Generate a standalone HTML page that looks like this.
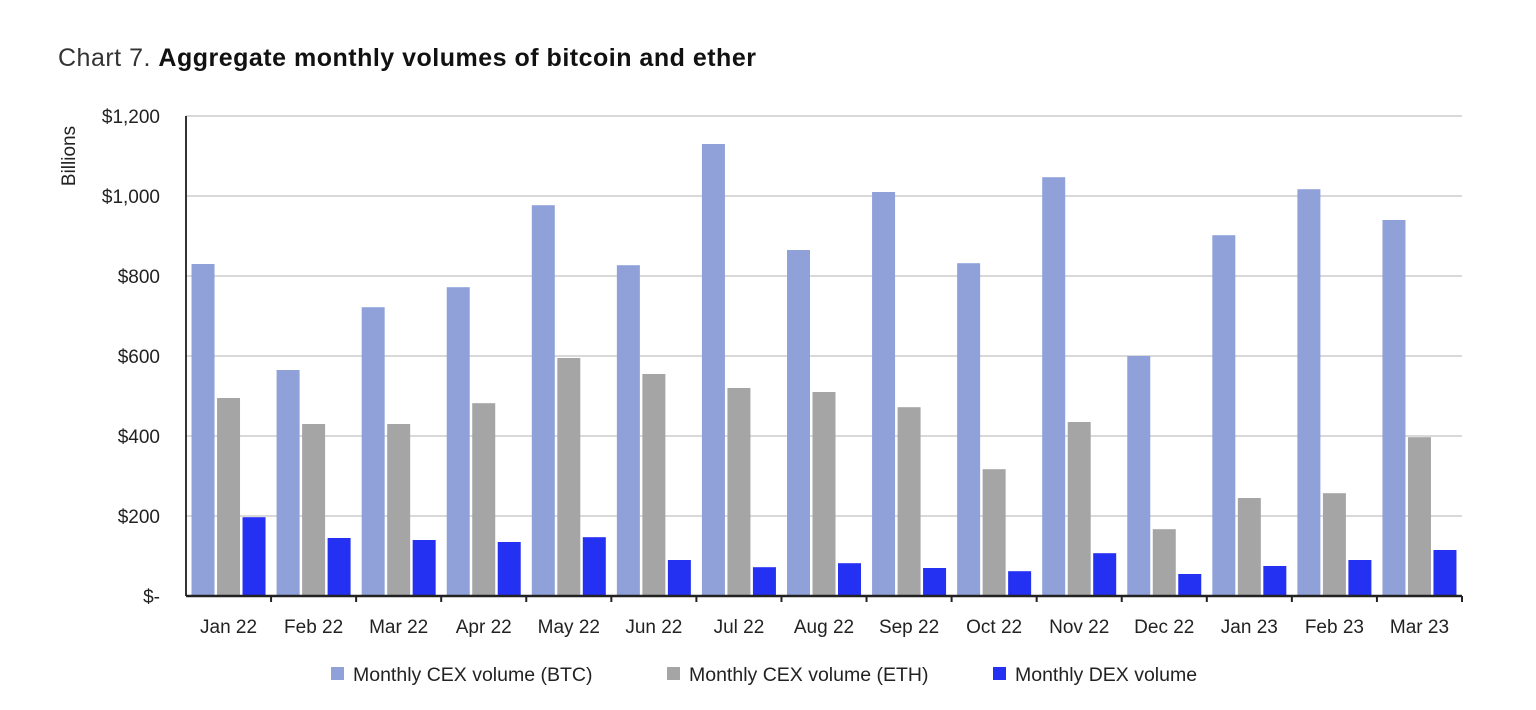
<!DOCTYPE html>
<html><head><meta charset="utf-8"><style>
body{margin:0;background:#fff;width:1536px;height:710px;overflow:hidden;font-family:"Liberation Sans",sans-serif}
#title{position:absolute;left:58px;top:44px;font-size:25px;letter-spacing:0.5px;color:#222;white-space:nowrap}
#title span{color:#333}
#title b{font-weight:bold;color:#111}
</style></head><body>
<div id="title"><span>Chart 7.</span> <b>Aggregate monthly volumes of bitcoin and ether</b></div>
<svg id="chart" width="1536" height="710" style="position:absolute;left:0;top:0"></svg>
<script>
const categories=["Jan 22","Feb 22","Mar 22","Apr 22","May 22","Jun 22","Jul 22","Aug 22","Sep 22","Oct 22","Nov 22","Dec 22","Jan 23","Feb 23","Mar 23"];
const btc=[830,565,722,772,977,827,1130,865,1010,832,1047,600,902,1017,940];
const eth=[495,430,430,482,595,555,520,510,472,317,435,167,245,257,397];
const dex=[197,145,140,135,147,90,72,82,70,62,107,55,75,90,115];
const yTicks=[0,200,400,600,800,1000,1200];
const yTickLabels=["$-","$200","$400","$600","$800","$1,000","$1,200"];
const seriesNames=["Monthly CEX volume (BTC)","Monthly CEX volume (ETH)","Monthly DEX volume"];
const colors=["#8fa1d8","#a5a5a5","#2430f2"];
const NS="http://www.w3.org/2000/svg";
const svg=document.getElementById('chart');
const x0=186,x1=1462,y0=596,yTop=116;
const y=v=>y0-(v/1200)*(y0-yTop);
const band=(x1-x0)/categories.length;
function mk(t,a,txt){const e=document.createElementNS(NS,t);for(const k in a)e.setAttribute(k,a[k]);if(txt!==undefined)e.textContent=txt;svg.appendChild(e);return e;}
yTicks.forEach((t,i)=>{
  if(t>0){const g=mk('line',{x1:x0,x2:x1,y1:y(t),y2:y(t),stroke:'#d9d9d9','stroke-width':2});
  
  }
  const l=mk('text',{x:160,y:y(t)+7,'text-anchor':'end','font-size':19,fill:'#222'},yTickLabels[i]);
  
  
});
const yt=mk('text',{x:0,y:0,transform:'translate(75,156) rotate(-90)','text-anchor':'middle','font-size':19,fill:'#222'},'Billions');


const data=[btc,eth,dex];
const bw=23,gap=2.5;
categories.forEach((c,i)=>{
  const cx=x0+band*(i+0.5);
  data.forEach((s,j)=>{
    const bx=cx-1.5*bw-gap+j*(bw+gap);
    const r=mk('rect',{x:bx,y:y(s[i]),width:bw,height:y0-y(s[i]),fill:colors[j]});
    
    
  });
  const l=mk('text',{x:cx,y:633,'text-anchor':'middle','font-size':19,fill:'#222'},c);
  
  
  const tk=mk('line',{x1:x0+band*(i+1),x2:x0+band*(i+1),y1:y0,y2:y0+6,stroke:'#222','stroke-width':2});
  
  
});
const ax=mk('line',{x1:x0,x2:x0,y1:yTop,y2:y0,stroke:'#333','stroke-width':2});


const bx=mk('line',{x1:x0,x2:x1,y1:y0,y2:y0,stroke:'#222','stroke-width':2.5});


const legX=[331,667,993];
seriesNames.forEach((n,j)=>{
  const r=mk('rect',{x:legX[j],y:667,width:13,height:13,fill:colors[j]});
  
  
  const t=mk('text',{x:legX[j]+22,y:681,'font-size':19.5,fill:'#222'},n);
  
  
});
</script>
</body></html>
